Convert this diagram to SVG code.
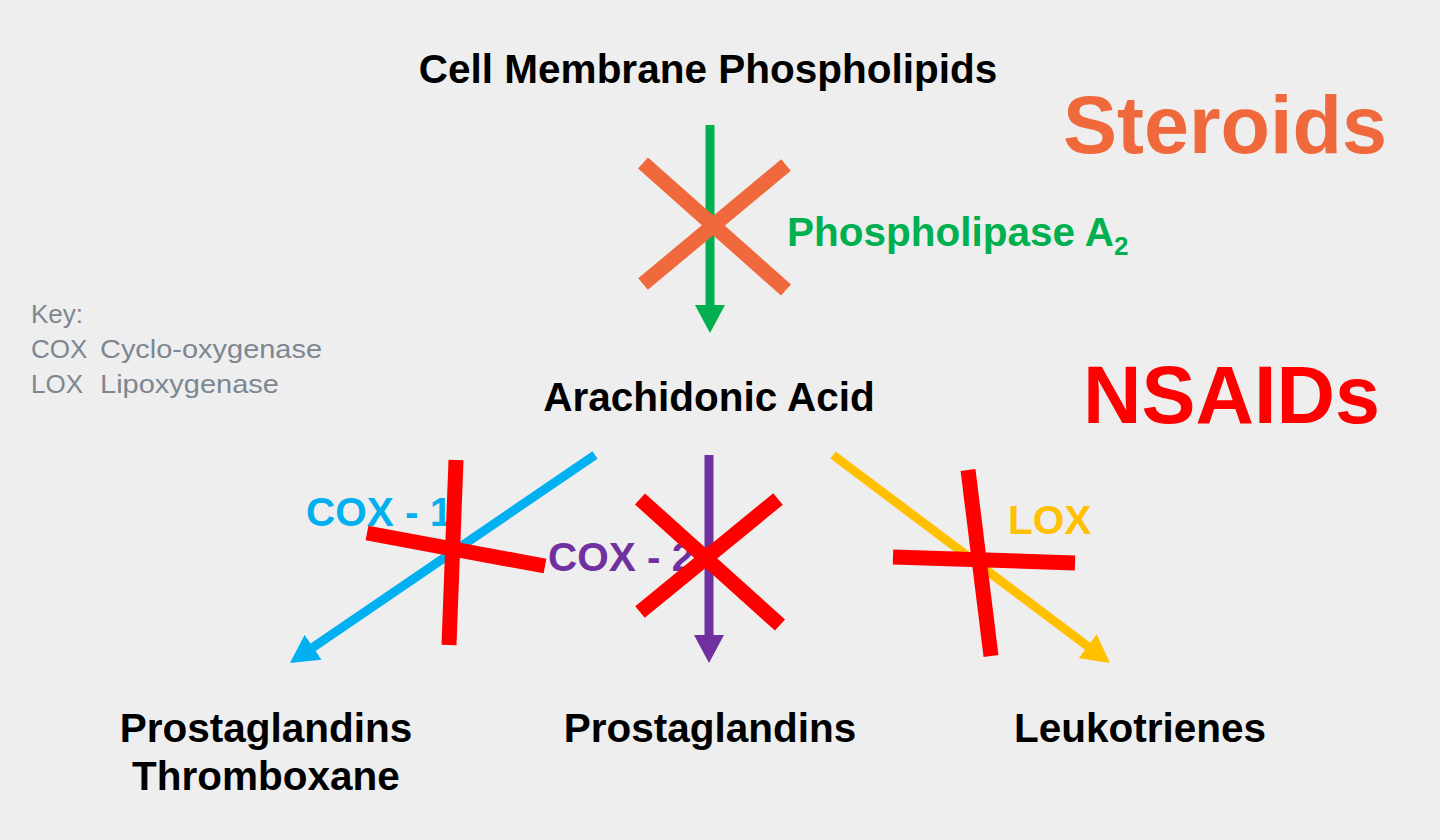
<svg xmlns="http://www.w3.org/2000/svg" width="1440" height="840" viewBox="0 0 1440 840">
<style>
.b{font-family:"Liberation Sans",Arial,sans-serif;font-weight:bold;font-size:40.5px;}
.k{font-family:"Liberation Sans",Arial,sans-serif;font-size:26px;fill:#7d8791;}
.arr{stroke-width:9;fill:none;}
.x{stroke-width:15;fill:none;stroke-linecap:butt;}
</style>
<defs>
<marker id="mg" markerUnits="userSpaceOnUse" markerWidth="28" markerHeight="30" refX="8" refY="15" orient="auto"><path d="M0,0 L28,15 L0,30 z" fill="#00B050"/></marker>
<marker id="mb" markerUnits="userSpaceOnUse" markerWidth="28" markerHeight="30" refX="8" refY="15" orient="auto"><path d="M0,0 L28,15 L0,30 z" fill="#00B0F0"/></marker>
<marker id="mp" markerUnits="userSpaceOnUse" markerWidth="28" markerHeight="30" refX="8" refY="15" orient="auto"><path d="M0,0 L28,15 L0,30 z" fill="#7030A0"/></marker>
<marker id="my" markerUnits="userSpaceOnUse" markerWidth="28" markerHeight="30" refX="8" refY="15" orient="auto"><path d="M0,0 L28,15 L0,30 z" fill="#FFC000"/></marker>
</defs>
<rect width="1440" height="840" fill="#eeeeee"/>

<g id="connectors">
<line class="arr" x1="710" y1="125" x2="710" y2="313" stroke="#00B050" marker-end="url(#mg)"/>
<line class="arr" x1="595" y1="455" x2="306.5" y2="651.7" stroke="#00B0F0" marker-end="url(#mb)"/>
<line class="arr" x1="709" y1="455" x2="709" y2="643" stroke="#7030A0" marker-end="url(#mp)"/>
<line class="arr" x1="833" y1="455" x2="1094" y2="651" stroke="#FFC000" marker-end="url(#my)"/>
</g>

<g id="node-membrane"><text class="b" x="708" y="83" text-anchor="middle" fill="#000">Cell Membrane Phospholipids</text></g>
<g id="node-arachidonic"><text class="b" x="709" y="411" text-anchor="middle" fill="#000">Arachidonic Acid</text></g>
<g id="node-prost-thromb">
<text class="b" x="266" y="742" text-anchor="middle" fill="#000">Prostaglandins</text>
<text class="b" x="266" y="790" text-anchor="middle" fill="#000">Thromboxane</text>
</g>
<g id="node-prost"><text class="b" x="710" y="742" text-anchor="middle" fill="#000">Prostaglandins</text></g>
<g id="node-leuko"><text class="b" x="1140" y="742" text-anchor="middle" fill="#000">Leukotrienes</text></g>

<g id="labels">
<text class="b" x="787" y="246" fill="#00B050">Phospholipase A<tspan font-size="26" dy="9">2</tspan></text>
<text class="b" x="306" y="526" fill="#00B0F0">COX - 1</text>
<text class="b" x="548" y="571" fill="#7030A0">COX - 2</text>
<text class="b" x="1008" y="534" fill="#FFC000">LOX</text>
</g>

<g id="steroids">
<text class="b" x="1063" y="153" fill="#F0693C" style="font-size:81px">Steroids</text>
<line class="x" x1="643" y1="163" x2="786" y2="290" stroke="#F0693C"/>
<line class="x" x1="643" y1="284" x2="786" y2="165" stroke="#F0693C"/>
</g>

<g id="nsaids">
<text class="b" x="1083" y="423" fill="#FF0000" style="font-size:81px">NSAIDs</text>
<line class="x" x1="456" y1="460" x2="449" y2="645" stroke="#FF0000"/>
<line class="x" x1="367" y1="533" x2="545" y2="566" stroke="#FF0000"/>
<line class="x" x1="640" y1="499" x2="780" y2="625" stroke="#FF0000"/>
<line class="x" x1="640" y1="612" x2="778" y2="499" stroke="#FF0000"/>
<line class="x" x1="968" y1="470" x2="991" y2="656" stroke="#FF0000"/>
<line class="x" x1="893" y1="557" x2="1075" y2="563" stroke="#FF0000"/>
</g>

<g id="key">
<text class="k" x="31" y="323">Key:</text>
<text class="k" x="31" y="358">COX</text>
<text class="k" x="100" y="358" textLength="222" lengthAdjust="spacingAndGlyphs">Cyclo-oxygenase</text>
<text class="k" x="31" y="393">LOX</text>
<text class="k" x="100" y="393" textLength="179" lengthAdjust="spacingAndGlyphs">Lipoxygenase</text>
</g>
</svg>
